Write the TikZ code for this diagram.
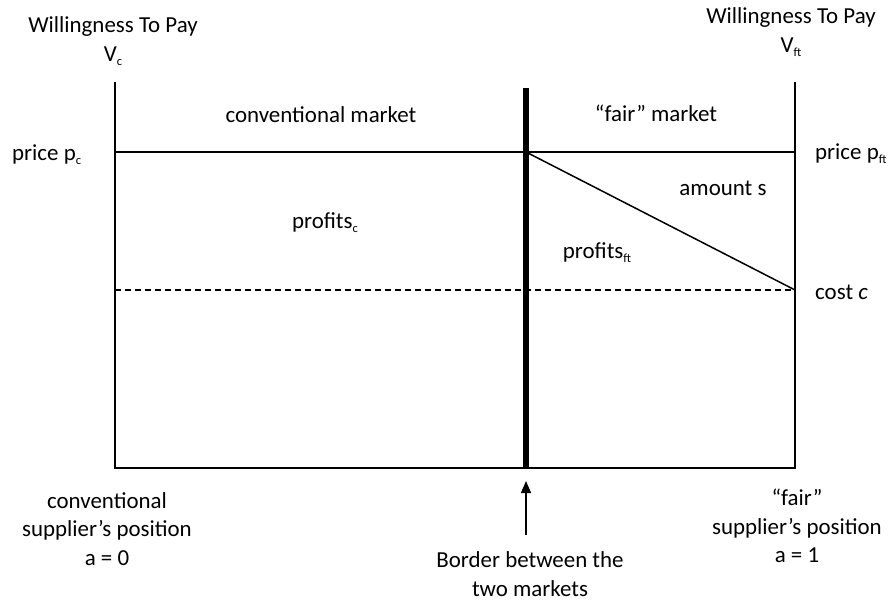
\documentclass[tikz,border=0pt]{standalone}
\usepackage{fontspec}
\setmainfont{Carlito}
\usetikzlibrary{arrows.meta}
\newcommand{\sbs}[1]{\raisebox{-0.35ex}{\fontsize{12.5}{12.5}\selectfont #1}}
\begin{document}
\begin{tikzpicture}[x=1bp,y=-1bp,
  lbl/.style={font=\fontsize{23}{28.5}\selectfont, align=center, inner sep=0pt},
  axis/.style={line width=1.3bp},
]
\useasboundingbox (0,0) rectangle (890,601);
% coordinates
\coordinate (lt) at (115,82);
\coordinate (lb) at (115,468);
\coordinate (rt) at (795,82);
\coordinate (rb) at (795,468);
\coordinate (bt) at (526,88);
\coordinate (bb) at (526,468);
\coordinate (pl) at (115,152);
\coordinate (pm) at (526,152);
\coordinate (pr) at (795,152);
\coordinate (cl) at (115,290);
\coordinate (cr) at (795,290);
\coordinate (at) at (526,481);
\coordinate (ab) at (526,535);
% axes
\draw[axis] (lt) -- (lb) -- (rb) -- (rt);
\draw[axis] (pl) -- (pr);
\draw[axis, dash pattern=on 6bp off 4bp] (cl) -- (cr);
\draw[axis, line width=1.5bp] (pm) -- (cr);
\draw[line width=6bp] (bt) -- (bb);
\draw[axis, -{Triangle[length=12bp,width=10bp]}] (ab) -- (at);
% labels
\node[lbl] (wl) at (113,41) {Willingness To Pay\\V\sbs{c}};
\node[lbl] (wr) at (791,32) {Willingness To Pay\\V\sbs{ft}};
\node[lbl] (cm) at (321,115) {conventional market};
\node[lbl] (fm) at (656,113) {“fair” market};
\node[lbl, anchor=west] (pc) at (12,155) {price p\sbs{c}};
\node[lbl, anchor=west] (pf) at (815,154) {price p\sbs{ft}};
\node[lbl] (am) at (723,188) {amount s};
\node[lbl] (prc) at (325,223) {profits\sbs{c}};
\node[lbl] (prf) at (597,253) {profits\sbs{ft}};
\node[lbl, anchor=west] (cc) at (815,292) {cost \textit{c}};
\node[lbl] (cs) at (107,529) {conventional\\supplier’s position\\a = 0};
\node[lbl] (bd) at (530,574) {Border between the\\two markets};
\node[lbl] (fs) at (797,526) {“fair”\\supplier’s position\\a = 1};
\end{tikzpicture}
\end{document}
